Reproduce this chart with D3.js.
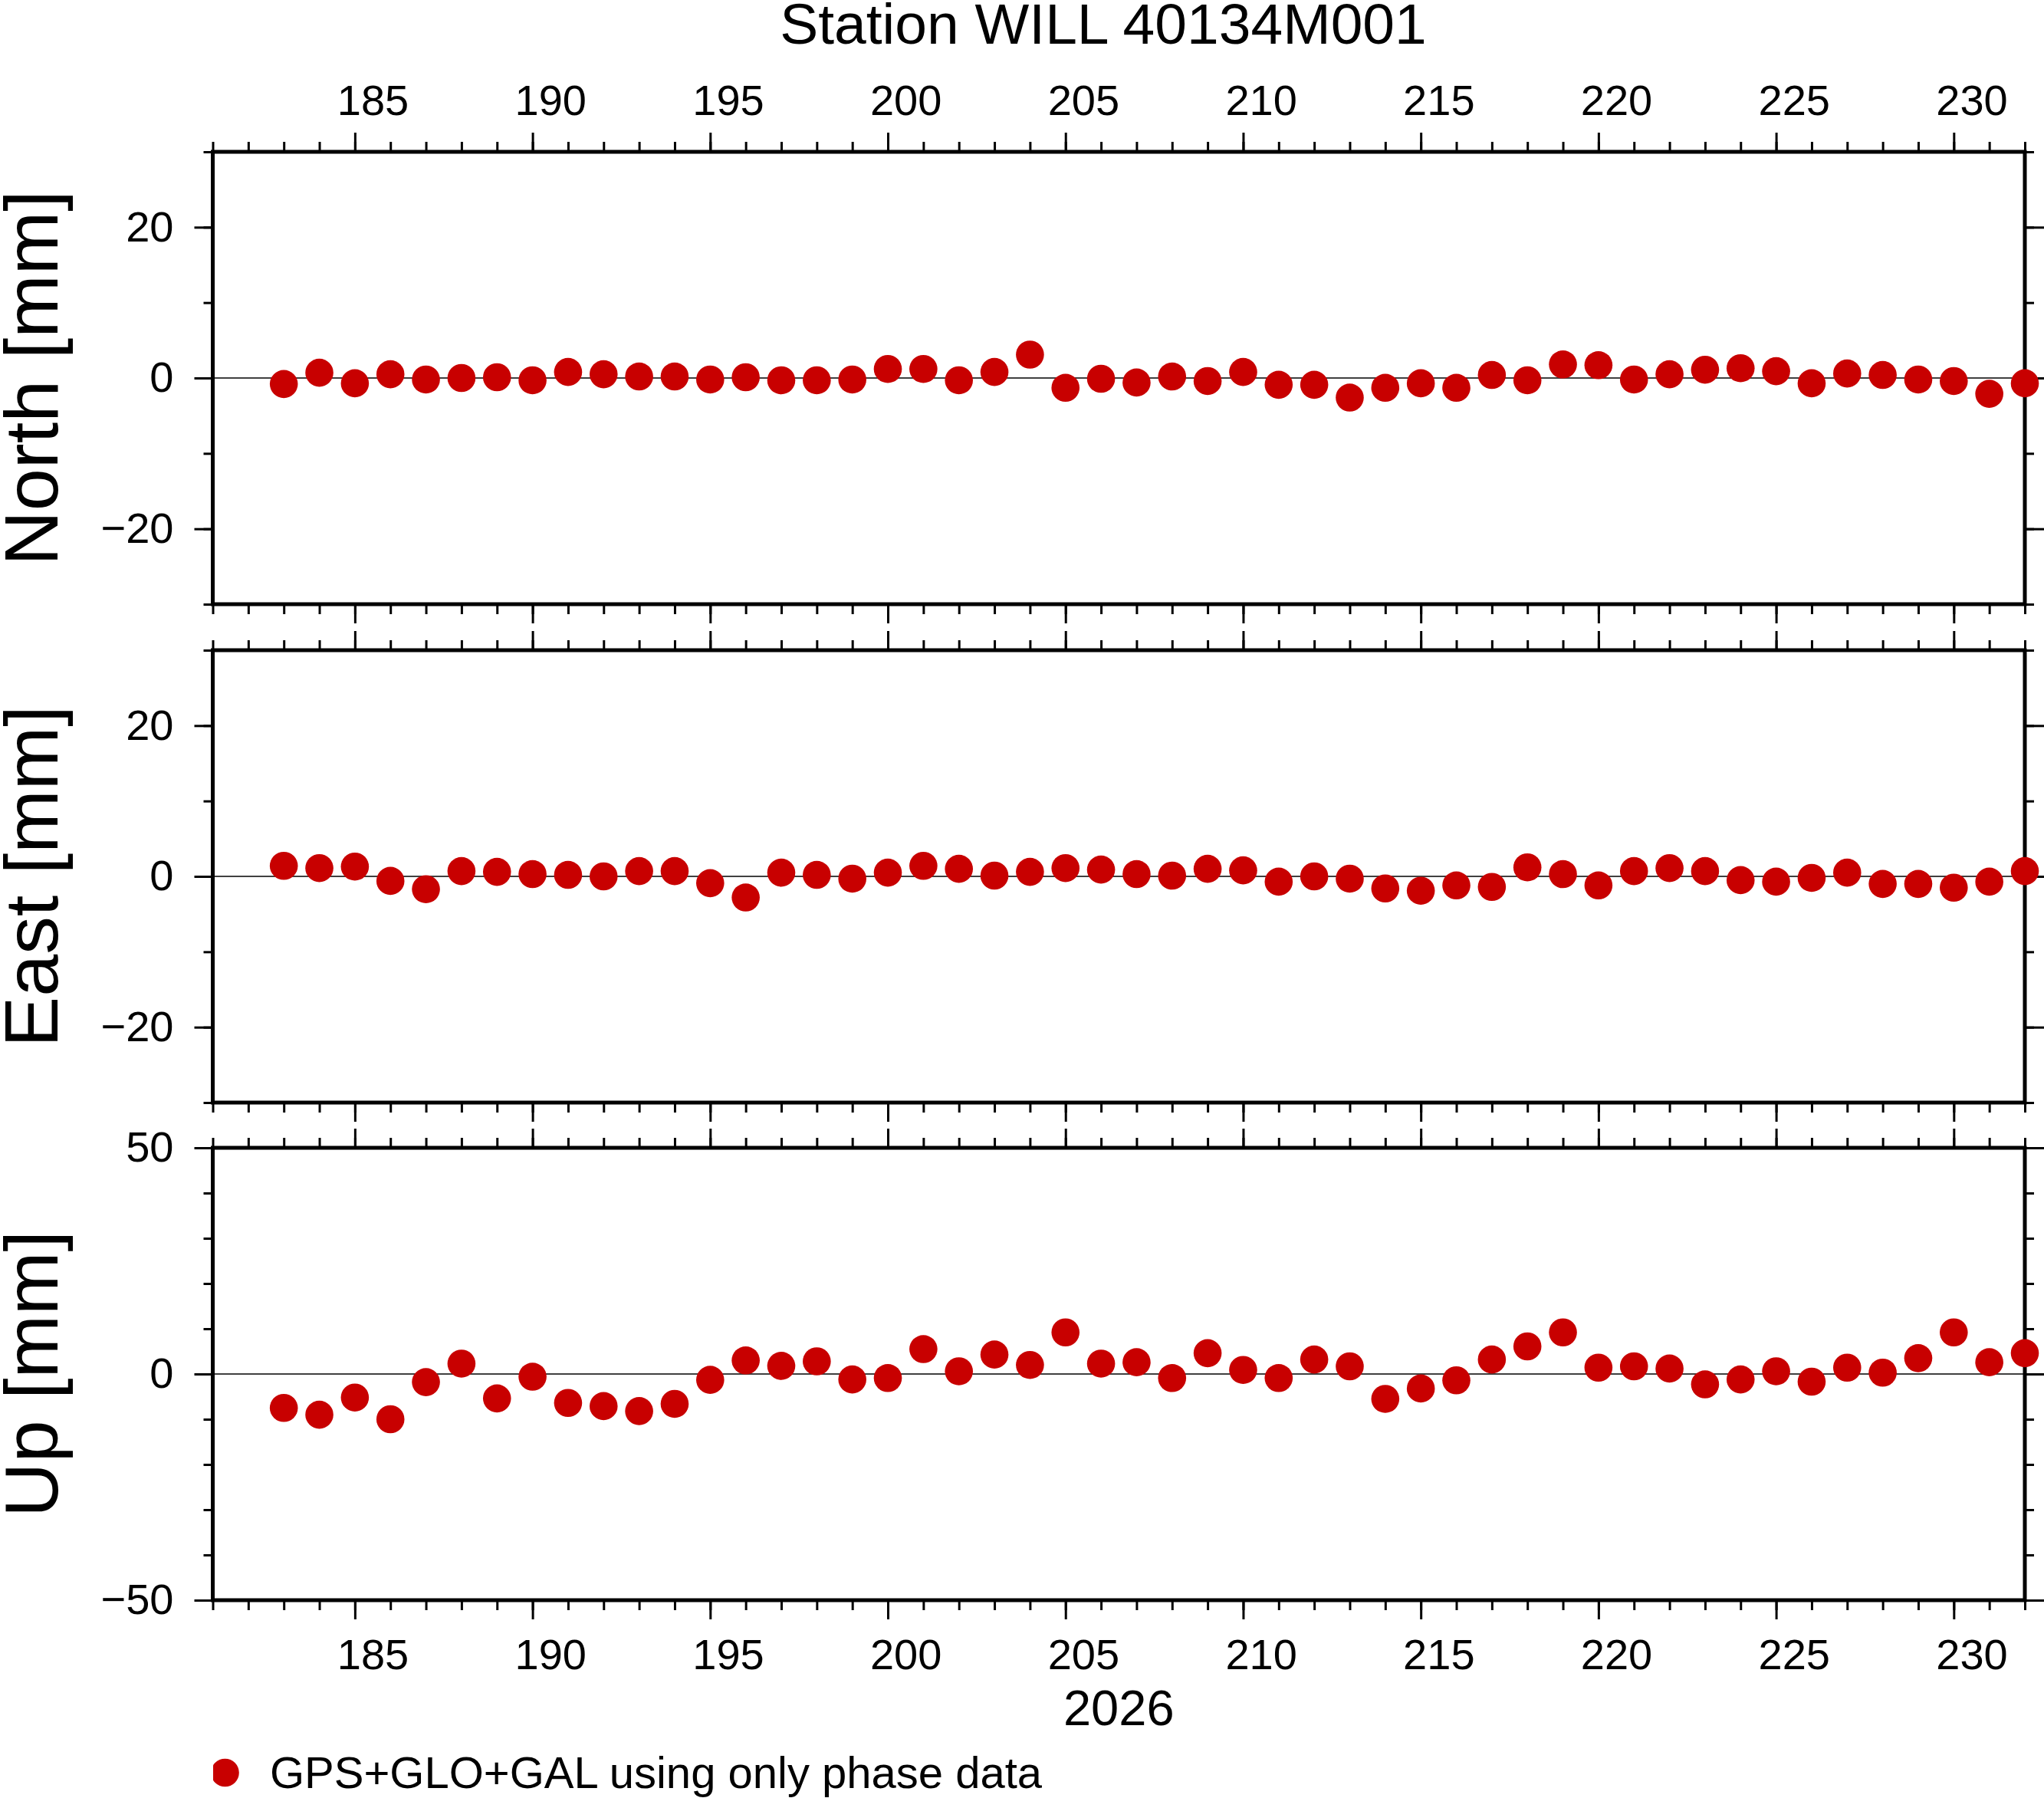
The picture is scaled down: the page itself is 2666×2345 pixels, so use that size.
<!doctype html>
<html lang="en">
<head>
	<meta charset="utf-8">
	<title>Station WILL 40134M001</title>
	<script src="https://d3js.org/d3.v7.min.js"></script>
	<style>
		html, body { margin: 0; padding: 0; background: #fff; }
		svg { display: block; font-family: "Liberation Sans", Arial, sans-serif; }
	</style>
</head>
<body>
	<div id="output"></div>

	<script>
		// day of year 2026
		var days = [183, 184, 185, 186, 187, 188, 189, 190, 191, 192,
			193, 194, 195, 196, 197, 198, 199, 200, 201, 202,
			203, 204, 205, 206, 207, 208, 209, 210, 211, 212,
			213, 214, 215, 216, 217, 218, 219, 220, 221, 222,
			223, 224, 225, 226, 227, 228, 229, 230, 231, 232];

		// residuals in mm
		var north = [-0.8, 0.7, -0.7, 0.5, -0.2, 0.0, 0.1, -0.3, 0.8, 0.5,
			0.2, 0.2, -0.2, 0.1, -0.3, -0.3, -0.2, 1.2, 1.2, -0.3,
			0.8, 3.1, -1.3, -0.1, -0.6, 0.2, -0.4, 0.8, -0.9, -0.9,
			-2.6, -1.3, -0.7, -1.3, 0.4, -0.3, 1.8, 1.7, -0.2, 0.5,
			1.1, 1.3, 0.9, -0.7, 0.6, 0.4, -0.2, -0.4, -2.1, -0.7];

		var east = [1.4, 1.1, 1.3, -0.6, -1.7, 0.7, 0.6, 0.3, 0.2, 0.0,
			0.7, 0.7, -0.9, -2.8, 0.5, 0.2, -0.3, 0.5, 1.4, 1.0,
			0.1, 0.6, 1.1, 0.9, 0.3, 0.1, 1.0, 0.8, -0.7, 0.0,
			-0.3, -1.6, -1.9, -1.2, -1.4, 1.2, 0.3, -1.2, 0.7, 1.1,
			0.7, -0.5, -0.7, -0.2, 0.5, -1.0, -1.0, -1.5, -0.7, 0.7];

		var up = [-7.5, -9.0, -5.2, -10.0, -1.8, 2.3, -5.4, -0.6, -6.4, -7.1,
			-8.2, -6.6, -1.3, 3.0, 1.8, 2.8, -1.2, -0.9, 5.5, 0.6,
			4.3, 2.0, 9.2, 2.3, 2.6, -0.9, 4.6, 0.9, -0.9, 3.2,
			1.7, -5.5, -3.2, -1.4, 3.2, 6.1, 9.2, 1.4, 1.7, 1.2,
			-2.3, -1.2, 0.6, -1.7, 1.4, 0.3, 3.5, 9.2, 2.6, 4.6];

		var xTickLabels = [185, 190, 195, 200, 205, 210, 215, 220, 225, 230];
		var xDomain = [181, 232];

		var panelNames = ["North [mm]", "East [mm]", "Up [mm]"];
		var panelSeries = [north, east, up];
		var panelDomains = [[-30, 30], [-30, 30], [-50, 50]];
		var panelMajor = [[-20, 0, 20], [-20, 0, 20], [-50, 0, 50]];
		var panelMinor = [[-30, -20, -10, 0, 10, 20, 30],
			[-30, -20, -10, 0, 10, 20, 30],
			[-50, -40, -30, -20, -10, 0, 10, 20, 30, 40, 50]];

		var title = "Station WILL 40134M001";
		var yearLabel = "2026";
		var legendLabel = "GPS+GLO+GAL using only phase data";

		var W = 2666, H = 2345;
		var left = 277.5, right = 2641;
		var panelTops = [198, 848, 1497];
		var panelH = 590;
		var red = "#c80000";
		var font = "Liberation Sans, Arial, sans-serif";

		var svg = d3.select("#output").append("svg")
			.attr("width", W)
			.attr("height", H);

		var x = d3.scaleLinear()
			.domain(xDomain)
			.range([left, right]);

		var allDays = d3.range(xDomain[0], xDomain[1] + 1);
		var majorDays = allDays.filter(function (d) { return d % 5 === 0; });

		function styleAxis(g, fs) {
			g.select(".domain").remove();
			g.selectAll("line").attr("stroke", "#000").attr("stroke-width", 3);
			g.attr("font-family", font).attr("font-size", fs);
			g.selectAll("text").attr("fill", "#000");
		}

		function xTicks(g, top, orient) {
			var mk = orient === "top" ? d3.axisTop : d3.axisBottom;
			g.append("g")
				.attr("transform", "translate(0," + top + ")")
				.call(mk(x).tickValues(allDays).tickSize(13).tickFormat(""))
				.call(styleAxis, 56);
			g.append("g")
				.attr("transform", "translate(0," + top + ")")
				.call(mk(x).tickValues(majorDays).tickSize(25).tickFormat(""))
				.call(styleAxis, 56);
		}

		function xLabels(g, top, orient) {
			// day labels sit in the middle of the day
			var mk = orient === "top" ? d3.axisTop : d3.axisBottom;
			g.append("g")
				.attr("transform", "translate(0," + top + ")")
				.call(mk(x)
					.tickValues(xTickLabels.map(function (d) { return d + 0.5; }))
					.tickSize(0)
					.tickPadding(orient === "top" ? 48 : 50)
					.tickFormat(function (d) { return d - 0.5; }))
				.call(styleAxis, 56);
		}

		panelSeries.forEach(function (series, i) {
			var top = panelTops[i];
			var bottom = top + panelH;

			var y = d3.scaleLinear()
				.domain(panelDomains[i])
				.range([bottom, top]);

			var g = svg.append("g").attr("class", "panel");

			// zero line
			g.append("line")
				.attr("x1", left).attr("x2", right)
				.attr("y1", y(0)).attr("y2", y(0))
				.attr("stroke", "#000")
				.attr("stroke-width", 1.5);

			// left axis
			g.append("g")
				.attr("transform", "translate(" + left + ",0)")
				.call(d3.axisLeft(y).tickValues(panelMinor[i]).tickSize(12).tickFormat(""))
				.call(styleAxis, 56);
			g.append("g")
				.attr("transform", "translate(" + left + ",0)")
				.call(d3.axisLeft(y).tickValues(panelMajor[i]).tickSize(24).tickPadding(27))
				.call(styleAxis, 56);

			// right axis
			g.append("g")
				.attr("transform", "translate(" + right + ",0)")
				.call(d3.axisRight(y).tickValues(panelMinor[i]).tickSize(12).tickFormat(""))
				.call(styleAxis, 56);
			g.append("g")
				.attr("transform", "translate(" + right + ",0)")
				.call(d3.axisRight(y).tickValues(panelMajor[i]).tickSize(25).tickFormat(""))
				.call(styleAxis, 56);

			xTicks(g, top, "top");
			xTicks(g, bottom, "bottom");
			if (i === 0) xLabels(g, top, "top");
			if (i === panelSeries.length - 1) xLabels(g, bottom, "bottom");

			// frame
			g.append("rect")
				.attr("x", left).attr("y", top)
				.attr("width", right - left).attr("height", panelH)
				.attr("fill", "none")
				.attr("stroke", "#000")
				.attr("stroke-width", 5);

			// y label
			g.append("text")
				.attr("transform", "translate(75," + (top + panelH / 2) + ") rotate(-90)")
				.attr("text-anchor", "middle")
				.attr("font-family", font)
				.attr("font-size", 99)
				.text(panelNames[i]);

			// points
			g.selectAll("circle")
				.data(series)
				.enter()
				.append("circle")
				.attr("cx", function (d, j) { return x(days[j]); })
				.attr("cy", function (d) { return y(d); })
				.attr("r", 18.3)
				.attr("fill", red);
		});

		// title
		svg.append("text")
			.attr("x", 1439)
			.attr("y", 57)
			.attr("text-anchor", "middle")
			.attr("font-family", font)
			.attr("font-size", 75)
			.text(title);

		// year
		svg.append("text")
			.attr("x", (left + right) / 2)
			.attr("y", 2250)
			.attr("text-anchor", "middle")
			.attr("font-family", font)
			.attr("font-size", 65)
			.text(yearLabel);

		// legend
		svg.append("clipPath")
			.attr("id", "legclip")
			.append("rect")
			.attr("x", 278).attr("y", 2250)
			.attr("width", 200).attr("height", 100);

		svg.append("circle")
			.attr("cx", 293.5)
			.attr("cy", 2312)
			.attr("r", 18.3)
			.attr("fill", red)
			.attr("clip-path", "url(#legclip)");

		svg.append("text")
			.attr("x", 352)
			.attr("y", 2332)
			.attr("font-family", font)
			.attr("font-size", 58)
			.text(legendLabel);
	</script>
</body>
</html>
